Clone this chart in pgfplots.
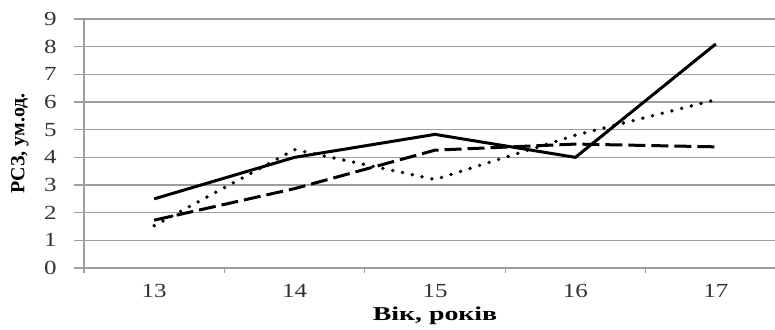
\documentclass[border=0pt]{standalone}
\usepackage{fontspec}
\setmainfont{Liberation Serif}
\newfontfamily\wide[FakeStretch=1.42]{Liberation Serif}
\newfontfamily\widet[FakeStretch=1.25]{Liberation Serif}
\usepackage{pgfplots}
\pgfplotsset{compat=1.18}
\definecolor{gridc}{gray}{0.62}
\begin{document}
\begin{tikzpicture}
\useasboundingbox (-42pt,-30.5pt) rectangle (345.5pt,134pt);
\clip (-42pt,-30.5pt) rectangle (345.5pt,134pt);
\begin{axis}[
  at={(0pt,0pt)}, anchor=south west,
  scale only axis, width=351pt, height=124.5pt,
  xmin=12.5, xmax=17.5, ymin=0, ymax=9,
  axis x line*=bottom, axis y line*=left,
  axis line style={gridc, line width=0.6pt, -},
  xtick={13,14,15,16,17},
  minor xtick={12.5,13.5,14.5,15.5,16.5,17.5},
  major x tick style={draw=none},
  minor x tick style={gridc, line width=0.6pt},
  ytick={0,...,9},
  ytick style={gridc, line width=0.6pt},
  tick align=outside,
  major tick length=5pt, minor tick length=2.5pt,
  ymajorgrids, grid style={gridc, line width=0.6pt},
  /pgf/number format/assume math mode=true,
  ticklabel style={font=\widet\fontsize{10}{11}\selectfont, text=black!80, inner sep=0pt},
  yticklabel style={anchor=east},
  yticklabel shift=8.5pt,
  xticklabel style={anchor=north},
  xticklabel shift=3pt,
  clip=false,
]
\addplot[black, line width=1.5pt] coordinates {(13,2.5) (14,4.0) (15,4.83) (16,4.0) (17,8.1)};
\addplot[black, line width=1.5pt, dash pattern=on 8.5pt off 3pt] coordinates {(13,1.73) (14,2.87) (15,4.26) (16,4.48) (17,4.38)};
\addplot[black, line width=1.9pt, line cap=round, dash pattern=on 0pt off 5pt] coordinates {(13,1.53) (14,4.28) (15,3.2) (16,4.8) (17,6.08)};
\node[anchor=center, font=\wide\bfseries\fontsize{9.8}{11}\selectfont] at (axis description cs:0.5,-0.193) {Вік, років};
\node[anchor=center, rotate=90, font=\bfseries\fontsize{10}{11}\selectfont] at (axis description cs:-0.0912,0.5) {РСЗ, ум.од.};
\end{axis}
\end{tikzpicture}
\end{document}
